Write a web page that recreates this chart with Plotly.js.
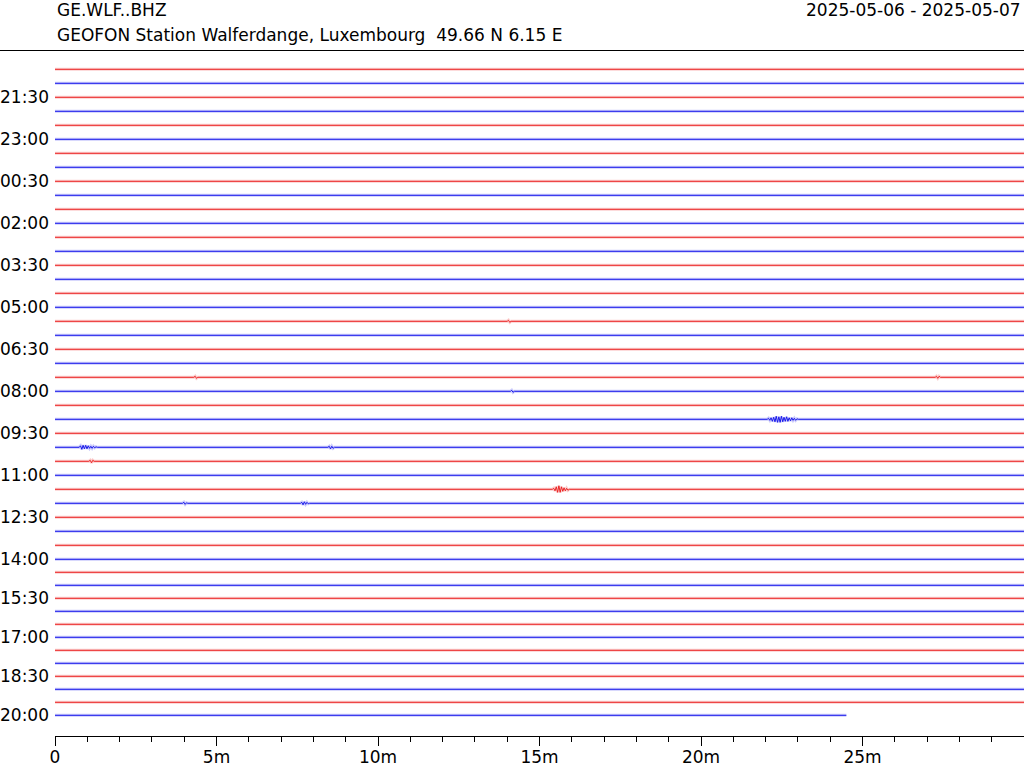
<!DOCTYPE html>
<html><head><meta charset="utf-8">
<script src="https://cdn.plot.ly/plotly-3.0.1.min.js"></script>
<style>body{margin:0;background:#fff}#chart{width:1024px;height:768px}</style>
</head><body><div id="chart"></div>
<script>
// ---- data ----
const station = "GE.WLF..BHZ";
const stationInfo = "GEOFON Station Walferdange, Luxembourg  49.66 N 6.15 E";
const dateRange = "2025-05-06 - 2025-05-07";
const rowCount = 48;          // 30-minute lines, 20:30 .. 20:00
const rowLength = 30;         // minutes per line
const lastRowLength = 24.5;   // last line is partial
const yTickLabels = ["21:30","23:00","00:30","02:00","03:30","05:00","06:30","08:00",
                     "09:30","11:00","12:30","14:00","15:30","17:00","18:30","20:00"];
const xTickValues = [0,5,10,15,20,25];
const xTickLabels = ["0","5m","10m","15m","20m","25m"];
// visible seismic events: line index, start minute, amplitudes (sampled every 0.04 min)
const eventRows   = [25, 27, 27, 28, 30, 31, 31, 22, 22, 23, 18];
const eventStarts = [22.05, 0.75, 8.45, 1.05, 15.4, 3.95, 7.6, 4.3, 27.25, 14.1, 14.0];
const eventAmps = [
  [0,1,-1,1.5,-2,2,-2.5,3,-3,2.5,-3,3,-2.5,2,-2,2.5,-2,1.5,-1.5,1.5,-1,1,-1,0.5,0],
  [0,1.5,-2,2,-1.5,2,-1.5,1.5,-1,1,-1,1,-0.5,0.5,0],
  [0,1,-1.5,1,-1,0],
  [0,1,-1.5,1,0],
  [0,1,-1.5,2.5,-3,3.5,-3,2.5,-2,1.5,-1.5,1,-1,0],
  [0,1,-1,0.5,0],
  [0,1,-1.5,1.5,-1,1,-0.5,0],
  [0,1,-1,0],
  [0,1,-1,1,0],
  [0,1,-1,0],
  [0,1,-1,0]
];
const lineColors = ["rgb(235,35,35)", "rgb(25,25,235)"];
const haloColors = ["rgba(235,35,35,0.22)", "rgba(25,25,235,0.22)"];

// ---- layout helpers ----
const SP1 = 14, SP2 = 13, BREAK = 35, DT = 0.04;
function rowLevel(i){ return i <= BREAK ? i*SP1 : BREAK*SP1 + (i-BREAK)*SP2; }

const traces = [];
const halos = [];
for (let i = 0; i < rowCount; i++) {
  const end = (i === rowCount-1) ? lastRowLength : rowLength;
  const base = rowLevel(i);
  const evs = [];
  eventRows.forEach((r,k)=>{ if (r===i) evs.push(k); });
  evs.sort((a,b)=>eventStarts[a]-eventStarts[b]);
  const x = [0], y = [base];
  evs.forEach(k=>{
    eventAmps[k].forEach((a,j)=>{ x.push(eventStarts[k] + j*DT); y.push(base - a); });
  });
  x.push(end); y.push(base);
  const c = i % 2;
  halos.push({x, y, type:'scatter', mode:'lines', hoverinfo:'skip', showlegend:false,
    line:{color:haloColors[c], width:3}});
  traces.push({x, y, type:'scatter', mode:'lines', hoverinfo:'skip', showlegend:false,
    line:{color:lineColors[c], width:1}});
}

const tickRows = yTickLabels.map((_,k)=>2+3*k);
const font = {family:'DejaVu Sans', size:17, color:'#000'};

const layout = {
  width:1024, height:768,
  margin:{l:55, r:0, t:52, b:32, pad:0},
  paper_bgcolor:'#fff', plot_bgcolor:'#fff',
  font: font,
  showlegend:false,
  xaxis:{
    range:[0,30], showgrid:false, zeroline:false,
    showline:true, linecolor:'#000', linewidth:1,
    ticks:'outside', ticklen:9, tickwidth:1, tickcolor:'#000',
    tickmode:'array', tickvals:xTickValues, ticktext:xTickLabels,
    tickfont:font, ticklabelstandoff:-3,
    minor:{tickmode:'linear', tick0:0, dtick:1, ticks:'outside', ticklen:5, tickwidth:1, tickcolor:'#000', showgrid:false}
  },
  yaxis:{
    range:[666.7, -17.3], showgrid:false, zeroline:false, showline:false,
    ticks:'', tickmode:'array', tickvals:tickRows.map(rowLevel), ticktext:yTickLabels,
    tickfont:font, ticklabelstandoff:5
  },
  shapes:[{type:'line', xref:'paper', yref:'paper', x0:-55/969, x1:1, y0:1+1.5/684, y1:1+1.5/684,
           line:{color:'#000', width:1}}],
  annotations:[
    {text:station, xref:'paper', yref:'paper', x:0, y:1+42/684, xanchor:'left', yanchor:'middle', showarrow:false, font:font},
    {text:stationInfo, xref:'paper', yref:'paper', x:0, y:1+17/684, xanchor:'left', yanchor:'middle', showarrow:false, font:font},
    {text:dateRange, xref:'paper', yref:'paper', x:1, xshift:-1, y:1+42/684, xanchor:'right', yanchor:'middle', showarrow:false, font:font}
  ]
};
Plotly.newPlot('chart', halos.concat(traces), layout, {displayModeBar:false, staticPlot:true});
</script></body></html>
